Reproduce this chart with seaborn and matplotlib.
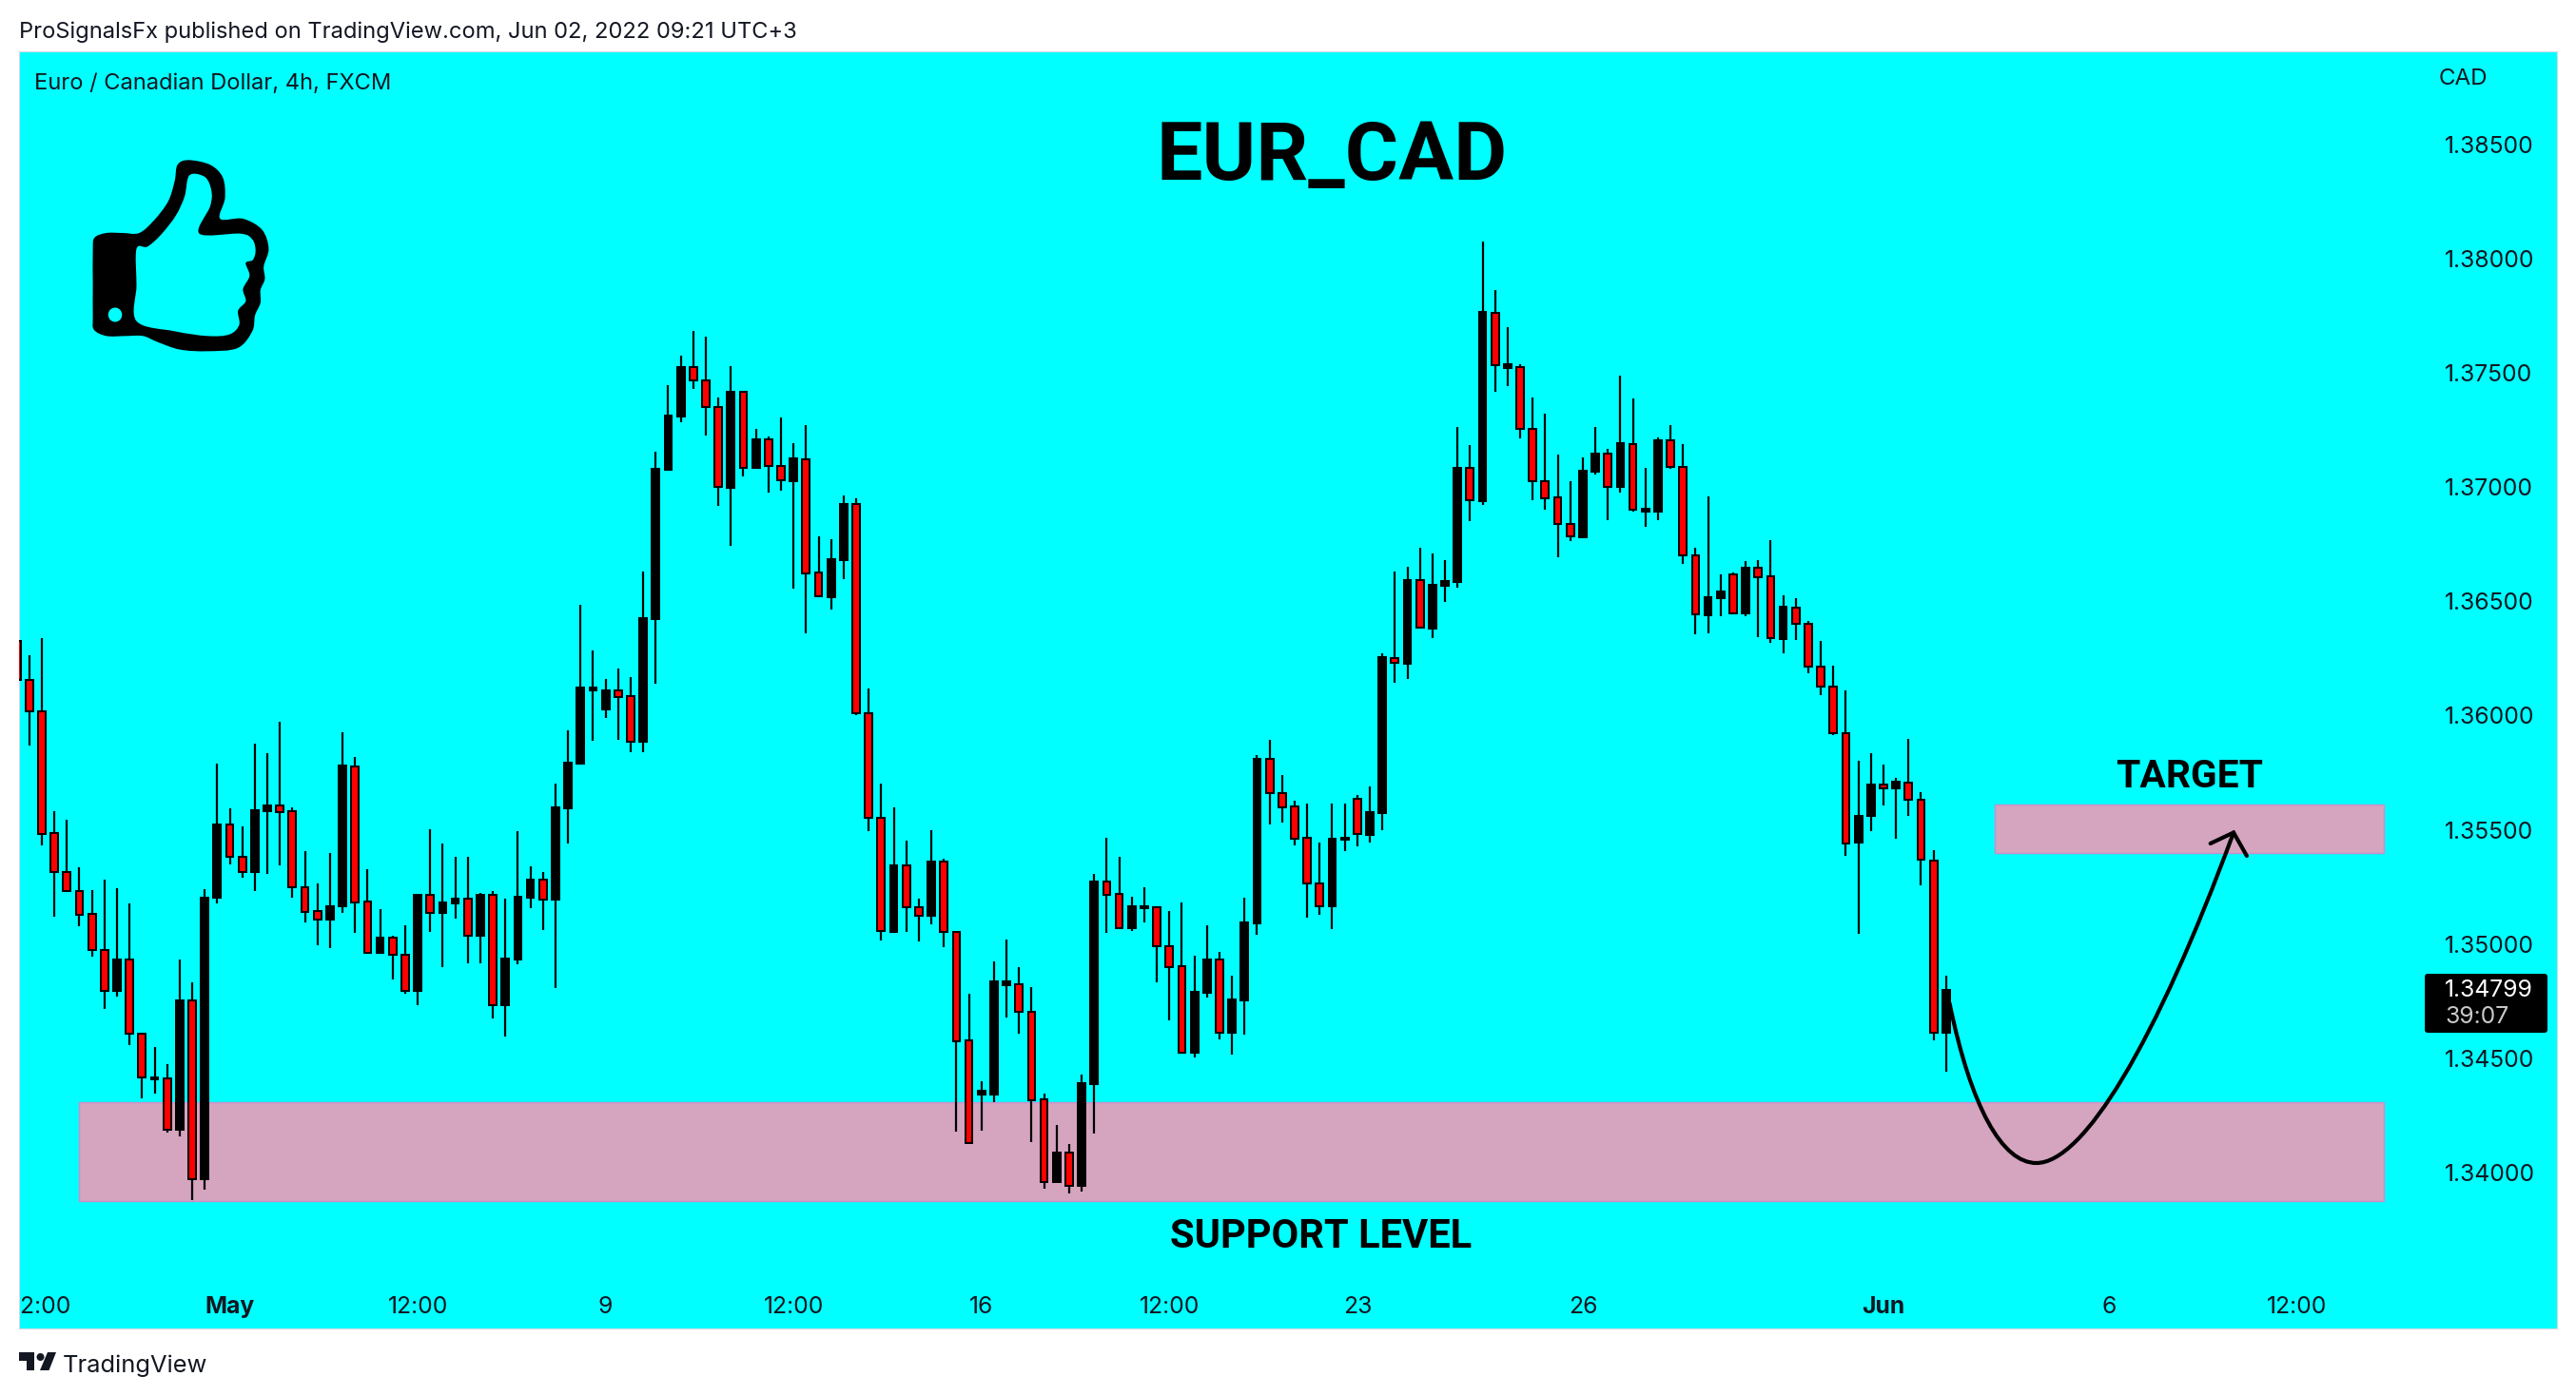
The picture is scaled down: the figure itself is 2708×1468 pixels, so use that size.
import numpy as np
import pandas as pd
import matplotlib.pyplot as plt
import seaborn as sns
from matplotlib.patches import PathPatch, Rectangle, Ellipse, Polygon, FancyBboxPatch
from matplotlib.path import Path
from matplotlib.transforms import Affine2D

# -------------------------------
# Data
# -------------------------------

high = [
    1.36326, 1.36265, 1.36339, 1.35582, 1.35544, 1.35337, 1.35236, 1.35283, 1.35245, 1.35178,
    1.34611, 1.34550, 1.34474, 1.34933, 1.34833, 1.35241, 1.35790, 1.35595, 1.35516, 1.35877,
    1.35835, 1.35972, 1.35599, 1.35407, 1.35265, 1.35398, 1.35927, 1.35819, 1.35328, 1.35153,
    1.35037, 1.35082, 1.35220, 1.35503, 1.35440, 1.35382, 1.35382, 1.35223, 1.35232, 1.35200,
    1.35494, 1.35341, 1.35316, 1.35704, 1.35936, 1.36485, 1.36285, 1.36160, 1.36207, 1.36169,
    1.36631, 1.37156, 1.37446, 1.37575, 1.37683, 1.37659, 1.37392, 1.37529, 1.37421, 1.37255,
    1.37221, 1.37306, 1.37192, 1.37271, 1.36784, 1.36771, 1.36964, 1.36952, 1.36118, 1.35703,
    1.35598, 1.35452, 1.35199, 1.35499, 1.35372, 1.35052, 1.34782, 1.34400, 1.34924, 1.35020,
    1.34899, 1.34812, 1.34345, 1.34208, 1.34125, 1.34429, 1.35307, 1.35465, 1.35382, 1.35207,
    1.35249, 1.35164, 1.35145, 1.35182, 1.34949, 1.35082, 1.34966, 1.34862, 1.35203, 1.35828,
    1.35893, 1.35740, 1.35629, 1.35614, 1.35444, 1.35615, 1.35615, 1.35652, 1.35690, 1.36272,
    1.36630, 1.36651, 1.36734, 1.36710, 1.36681, 1.37262, 1.37184, 1.38074, 1.37862, 1.37701,
    1.37537, 1.37392, 1.37322, 1.37141, 1.37026, 1.37130, 1.37262, 1.37169, 1.37487, 1.37388,
    1.37084, 1.37219, 1.37271, 1.37188, 1.36734, 1.36959, 1.36617, 1.36627, 1.36677, 1.36681,
    1.36768, 1.36526, 1.36513, 1.36413, 1.36326, 1.36218, 1.36110, 1.35800, 1.35837, 1.35786,
    1.35729, 1.35898, 1.35664, 1.35409, 1.34860,
]
body_top = [
    1.36326, 1.36155, 1.36017, 1.35485, 1.35313, 1.35230, 1.35131, 1.34972, 1.34933, 1.34931,
    1.34606, 1.34416, 1.34411, 1.34754, 1.34754, 1.35203, 1.35523, 1.35523, 1.35380, 1.35586,
    1.35608, 1.35608, 1.35582, 1.35247, 1.35144, 1.35165, 1.35781, 1.35779, 1.35185, 1.35028,
    1.35026, 1.34953, 1.35216, 1.35214, 1.35182, 1.35200, 1.35198, 1.35216, 1.35214, 1.34936,
    1.35207, 1.35283, 1.35281, 1.35599, 1.35794, 1.36122, 1.36122, 1.36111, 1.36109, 1.36084,
    1.36427, 1.37080, 1.37313, 1.37526, 1.37524, 1.37466, 1.37349, 1.37418, 1.37418, 1.37210,
    1.37208, 1.37091, 1.37125, 1.37123, 1.36625, 1.36685, 1.36927, 1.36925, 1.36008, 1.35551,
    1.35345, 1.35344, 1.35160, 1.35362, 1.35360, 1.35052, 1.34577, 1.34357, 1.34837, 1.34837,
    1.34823, 1.34702, 1.34319, 1.34087, 1.34086, 1.34391, 1.35274, 1.35272, 1.35218, 1.35165,
    1.35165, 1.35160, 1.34989, 1.34902, 1.34791, 1.34932, 1.34931, 1.34757, 1.35095, 1.35811,
    1.35809, 1.35659, 1.35601, 1.35464, 1.35264, 1.35461, 1.35464, 1.35634, 1.35577, 1.36255,
    1.36253, 1.36593, 1.36591, 1.36573, 1.36589, 1.37084, 1.37082, 1.37766, 1.37764, 1.37537,
    1.37524, 1.37256, 1.37024, 1.36954, 1.36840, 1.37071, 1.37147, 1.37145, 1.37191, 1.37189,
    1.36905, 1.37204, 1.37203, 1.37086, 1.36699, 1.36517, 1.36543, 1.36619, 1.36647, 1.36645,
    1.36608, 1.36476, 1.36474, 1.36400, 1.36212, 1.36125, 1.35921, 1.35562, 1.35696, 1.35696,
    1.35709, 1.35707, 1.35631, 1.35366, 1.34797,
]
body_bottom = [
    1.36155, 1.36017, 1.35483, 1.35313, 1.35230, 1.35129, 1.34972, 1.34794, 1.34794, 1.34606,
    1.34415, 1.34409, 1.34185, 1.34185, 1.33969, 1.33969, 1.35202, 1.35380, 1.35313, 1.35313,
    1.35582, 1.35579, 1.35247, 1.35142, 1.35106, 1.35106, 1.35164, 1.35183, 1.34963, 1.34963,
    1.34951, 1.34794, 1.34794, 1.35138, 1.35138, 1.35178, 1.35034, 1.35034, 1.34734, 1.34734,
    1.34933, 1.35203, 1.35193, 1.35193, 1.35595, 1.35790, 1.36111, 1.36026, 1.36082, 1.35884,
    1.35884, 1.36423, 1.37076, 1.37309, 1.37465, 1.37349, 1.36999, 1.36997, 1.37085, 1.37084,
    1.37091, 1.37028, 1.37026, 1.36623, 1.36520, 1.36519, 1.36681, 1.36008, 1.35551, 1.35055,
    1.35053, 1.35160, 1.35125, 1.35125, 1.35051, 1.34576, 1.34130, 1.34343, 1.34341, 1.34820,
    1.34701, 1.34318, 1.33960, 1.33960, 1.33943, 1.33943, 1.34387, 1.35217, 1.35071, 1.35070,
    1.35157, 1.34989, 1.34900, 1.34523, 1.34522, 1.34787, 1.34613, 1.34612, 1.34755, 1.35090,
    1.35659, 1.35599, 1.35462, 1.35264, 1.35167, 1.35167, 1.35458, 1.35480, 1.35477, 1.35575,
    1.36229, 1.36227, 1.36383, 1.36381, 1.36567, 1.36584, 1.36941, 1.36939, 1.37535, 1.37520,
    1.37256, 1.37024, 1.36952, 1.36840, 1.36783, 1.36781, 1.37067, 1.37002, 1.37000, 1.36902,
    1.36892, 1.36892, 1.37086, 1.36699, 1.36441, 1.36439, 1.36513, 1.36448, 1.36446, 1.36606,
    1.36337, 1.36335, 1.36400, 1.36212, 1.36125, 1.35921, 1.35441, 1.35442, 1.35562, 1.35680,
    1.35680, 1.35633, 1.35368, 1.34610, 1.34610,
]
low = [
    1.36155, 1.35869, 1.35433, 1.35120, 1.35230, 1.35079, 1.34945, 1.34716, 1.34770, 1.34557,
    1.34324, 1.34346, 1.34174, 1.34158, 1.33880, 1.33925, 1.35178, 1.35350, 1.35290, 1.35232,
    1.35308, 1.35344, 1.35203, 1.35095, 1.34996, 1.34983, 1.35136, 1.35050, 1.34963, 1.34963,
    1.34846, 1.34783, 1.34732, 1.35053, 1.34900, 1.35112, 1.34917, 1.34917, 1.34675, 1.34595,
    1.34911, 1.35158, 1.35061, 1.34808, 1.35440, 1.35787, 1.35889, 1.35990, 1.35895, 1.35840,
    1.35840, 1.36140, 1.37071, 1.37284, 1.37430, 1.37226, 1.36918, 1.36743, 1.37047, 1.37080,
    1.36975, 1.36984, 1.36557, 1.36360, 1.36520, 1.36465, 1.36598, 1.36002, 1.35495, 1.35015,
    1.35050, 1.35051, 1.35012, 1.35084, 1.34986, 1.34179, 1.34126, 1.34183, 1.34308, 1.34678,
    1.34608, 1.34133, 1.33929, 1.33960, 1.33906, 1.33917, 1.34171, 1.35049, 1.35071, 1.35057,
    1.35095, 1.34832, 1.34666, 1.34523, 1.34504, 1.34766, 1.34583, 1.34516, 1.34604, 1.35041,
    1.35523, 1.35532, 1.35432, 1.35115, 1.35128, 1.35066, 1.35407, 1.35428, 1.35444, 1.35499,
    1.36144, 1.36160, 1.36383, 1.36339, 1.36497, 1.36560, 1.36851, 1.36922, 1.37416, 1.37442,
    1.37214, 1.36942, 1.36902, 1.36694, 1.36764, 1.36781, 1.37054, 1.36855, 1.36976, 1.36892,
    1.36825, 1.36855, 1.37080, 1.36664, 1.36355, 1.36359, 1.36435, 1.36443, 1.36435, 1.36342,
    1.36318, 1.36272, 1.36331, 1.36184, 1.36090, 1.35915, 1.35385, 1.35046, 1.35493, 1.35605,
    1.35462, 1.35562, 1.35258, 1.34577, 1.34442,
]
# R = falling bar (red), B = rising bar (black)
direction = list(
    "R" "RRRRRRR" "B" "RR" "B" "R" "B" "R" "BB" "RR" "BB" "RRRR" "BB" "RR" "B" "RR" "B" "R"
    "BB" "R" "B" "R" "BBB" "R" "BBBBB" "RR" "BBBB" "RRR" "B" "R" "B" "RR" "B" "RR" "BB"
    "RRR" "B" "RR" "B" "RRR" "BBB" "RRR" "B" "R" "BB" "RR" "BB" "RRR" "BB" "R" "BBB"
    "RRRRR" "BB" "R" "BB" "R" "B" "R" "BBB" "R" "B" "R" "B" "RRRRR" "BB" "R" "B" "R" "BB"
    "RRR" "BB" "R" "B" "RR" "B" "RRRRR" "BB" "R" "B" "RRR" "B"
)
bars = list(range(-1, 154))

price_ticks = [1.34, 1.345, 1.35, 1.355, 1.36, 1.365, 1.37, 1.375, 1.38, 1.385]
date_ticks = [1, 16, 31, 46, 61, 76, 91, 106, 124, 148, 166, 181]
date_labels = ["12:00", "May", "12:00", "9", "12:00", "16", "12:00", "23", "26", "Jun", "6", "12:00"]

support_zone = (1.33875, 1.34308)
support_bars = (4.0, 187.95)
target_zone = (1.35399, 1.35612)
target_bars = (156.9, 187.95)
last_price = "1.34799"
countdown = "39:07"

# -------------------------------
# Style
# -------------------------------

W, H, DPI = 2708, 1468, 200
CYAN = "#00FFFF"
INK = "#131722"

sns.set_theme(style="white", rc={"axes.facecolor": CYAN, "figure.facecolor": "white"})
plt.rcParams["font.family"] = ["Inter", "DejaVu Sans"]

fig = plt.figure(figsize=(W / DPI, H / DPI), dpi=DPI)
ax = fig.add_axes([20 / W, (H - 1397) / H, 2668 / W, 1343 / H])
# reference pixels, y down, for the texts and drawings on top of the chart
px = Affine2D().scale(1 / W, -1 / H).translate(0, 1) + fig.transFigure

# -------------------------------
# Candles
# -------------------------------

wicks = pd.DataFrame({
    "bar": bars + bars,
    "price": high + low,
})
sns.lineplot(data=wicks, x="bar", y="price", units="bar", estimator=None,
             color="black", linewidth=0.8, solid_capstyle="butt", ax=ax, zorder=3, legend=False)

candles = pd.DataFrame({
    "bar": bars,
    "bottom": body_bottom,
    "body": np.array(body_top) - np.array(body_bottom),
    "direction": direction,
})
for name, face in [("R", "#FF0000"), ("B", "#000000")]:
    sub = candles[candles["direction"] == name]
    sns.barplot(data=sub, x="bar", y="body", bottom=sub["bottom"].values, native_scale=True,
                width=0.59, color=face, saturation=1, edgecolor="black", linewidth=0.72,
                errorbar=None, ax=ax, zorder=4)

ax.set_xlim(-0.82, 201.76)
ax.set_ylim(1.33317, 1.38907)

# -------------------------------
# Zones
# -------------------------------

for (b0, b1), (p0, p1) in [(support_bars, support_zone), (target_bars, target_zone)]:
    ax.add_patch(Rectangle((b0, p0), b1 - b0, p1 - p0, facecolor="#D5A4BF",
                           edgecolor="#C88FCB", linewidth=0.5, zorder=2))

# -------------------------------
# Axes
# -------------------------------

ax.set_xlabel("")
ax.set_ylabel("")
ax.set_xticks(date_ticks)
ax.set_xticklabels(date_labels)
ax.yaxis.tick_right()
ax.set_yticks(price_ticks)
ax.set_yticklabels([f"{p:.5f}" for p in price_ticks])
ax.tick_params(axis="x", length=0, pad=-12.4, labelsize=8.9, labelcolor=INK)
ax.tick_params(axis="y", length=0, pad=-42.5, labelsize=8.9, labelcolor=INK)
ax.grid(False)
for label in ax.get_xticklabels():
    label.set_zorder(6)
    if label.get_text() in ("May", "Jun"):
        label.set_fontweight("bold")
first = ax.get_xticklabels()[0]
first.set_clip_on(True)
first.set_clip_box(ax.bbox)
for side in ax.spines.values():
    side.set_color("#D6DAE3")
    side.set_linewidth(0.4)

# -------------------------------
# Texts
# -------------------------------

fig.text(20.5, 33.5, "ProSignalsFx published on TradingView.com, Jun 02, 2022 09:21 UTC+3", transform=px,
         fontsize=8.54, color=INK, va="center")
fig.text(36, 87.5, "Euro / Canadian Dollar, 4h, FXCM", transform=px, fontsize=8.54, color=INK, va="center")
fig.text(2564, 83, "CAD", transform=px, fontsize=8.7, color=INK, va="center")
fig.text(1400, 166, "EUR_CAD", transform=px, fontsize=31, fontweight="bold", family="Roboto",
         color="black", ha="center", va="center")
fig.text(2302, 816.5, "TARGET", transform=px, fontsize=14.7, fontweight="bold", family="Roboto",
         color="black", ha="center", va="center")
fig.text(1389, 1300.5, "SUPPORT LEVEL", transform=px, fontsize=15, fontweight="bold", family="Roboto",
         color="black", ha="center", va="center")
fig.text(66, 1436, "TradingView", transform=px, fontsize=9.2, color=INK, va="center")

# price box on the axis
fig.add_artist(FancyBboxPatch((2551, 1026), 125, 58, boxstyle="round,pad=2,rounding_size=3",
                              transform=px, facecolor="black", edgecolor="none", zorder=8))
fig.text(2570, 1042, last_price, transform=px, fontsize=8.9, color="white", va="center", zorder=9)
fig.text(2570, 1070, countdown, transform=px, fontsize=8.9, color="#C8C8C8", va="center", zorder=9)

# -------------------------------
# Arrow
# -------------------------------

curve = Path(
    [(2049.5, 1055), (2072, 1165), (2105, 1223), (2140.7, 1223),
     (2190, 1223), (2266, 1098), (2348, 875.5)],
    [Path.MOVETO] + [Path.CURVE4] * 6,
)
head = Path([(2323.7, 887), (2348, 875.5), (2361.9, 900)], [Path.MOVETO, Path.LINETO, Path.LINETO])
for shape in (curve, head):
    fig.add_artist(PathPatch(shape, transform=px, facecolor="none", edgecolor="black",
                             linewidth=1.5, capstyle="round", joinstyle="miter", zorder=7))


# -------------------------------
# Thumb and logo
# -------------------------------

def smooth(points):
    # closed catmull-rom outline, points given in crop coords of the icon
    p = np.array(points, dtype=float) / (1.742, 3.0)
    n = len(p)
    verts, codes = [p[0]], [Path.MOVETO]
    for i in range(n):
        a, b, c, d = p[i - 1], p[i], p[(i + 1) % n], p[(i + 2) % n]
        verts += [b + (c - a) / 6, c - (d - b) / 6, c]
        codes += [Path.CURVE4] * 3
    return Path(verts, codes)


thumb_outer = [
    (345, 505), (385, 520), (408, 560), (412, 625), (403, 690), (445, 690), (480, 725), (492, 785),
    (483, 840), (485, 880), (477, 915), (477, 955), (467, 995), (462, 1045), (435, 1098), (380, 1108),
    (330, 1103), (290, 1080), (262, 1060), (230, 1060), (195, 1060), (172, 1040), (170, 1000), (170, 900),
    (170, 790), (173, 750), (195, 735), (225, 735), (255, 735), (282, 695), (308, 635), (320, 570), (325, 520),
]
thumb_inner = [
    (347, 553), (375, 558), (387, 600), (385, 650), (365, 737), (440, 737), (462, 755), (468, 790),
    (463, 820), (450, 830), (457, 870), (445, 912), (450, 950), (436, 980), (438, 1025), (420, 1055),
    (380, 1060), (320, 1045), (250, 1013), (250, 900), (250, 785), (270, 778), (295, 740), (322, 680), (338, 620),
]
fig.add_artist(PathPatch(smooth(thumb_outer), transform=px, facecolor="black", edgecolor="none", zorder=7))
fig.add_artist(PathPatch(smooth(thumb_inner), transform=px, facecolor=CYAN, edgecolor="none", zorder=7))
fig.add_artist(Ellipse((121, 331), 14.5, 15, transform=px, facecolor=CYAN, edgecolor="none", zorder=7))

fig.add_artist(Polygon([(20, 1422), (36, 1422), (36, 1441), (28, 1441), (28, 1431), (20, 1431)],
                       transform=px, facecolor=INK, edgecolor="none"))
fig.add_artist(Ellipse((42.5, 1427), 8, 8, transform=px, facecolor=INK, edgecolor="none"))
fig.add_artist(Polygon([(50, 1422), (59, 1422), (51.5, 1441), (42, 1441)],
                       transform=px, facecolor=INK, edgecolor="none"))

fig.savefig("out.png", dpi=DPI)
plt.close(fig)
